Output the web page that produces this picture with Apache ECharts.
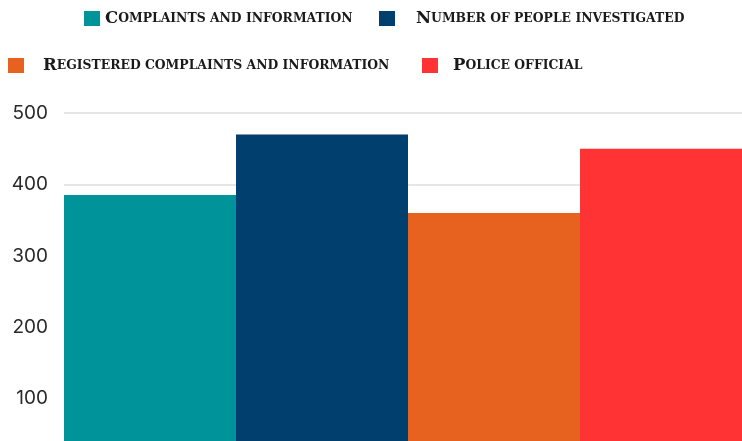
<!DOCTYPE html>
<html>
<head>
<meta charset="utf-8">
<style>
  html, body { margin: 0; padding: 0; background: #ffffff; }
  #chart { width: 742px; height: 441px; }
</style>
<script src="https://cdn.jsdelivr.net/npm/echarts@6/dist/echarts.min.js"></script>
</head>
<body>
<div id="chart"></div>
<script>
// One group, four measures drawn side by side
const categories = [''];
const seriesNames = [
  'Complaints and information',
  'Number of people investigated',
  'Registered complaints and information',
  'Police official'
];
const seriesValues = [385, 470, 360, 450];
const seriesColors = ['#00939a', '#003f6e', '#e8621f', '#ff3333'];
const yTicks = [0, 100, 200, 300, 400, 500];

// Legend placement: [left, top, extra space between swatch and text]
const legendSpots = [
  [84, 10, 0],
  [379, 10, 16],
  [8, 57, 14],
  [422, 57, 10]
];

const serif = '"DejaVu Serif", "Liberation Serif", serif';

// Small-caps style: first letter full size, rest as smaller capitals
function smallCaps(name) {
  const words = name.split(' ');
  const first = words[0];
  const head = first.charAt(0).toUpperCase();
  const tail = (first.slice(1) + ' ' + words.slice(1).join(' ')).toUpperCase();
  return '{a|' + head + '}{b|' + tail + '}';
}

const legends = seriesNames.map((name, i) => ({
  data: [name],
  left: legendSpots[i][0],
  top: legendSpots[i][1],
  itemWidth: 16,
  itemHeight: 15,
  padding: 0,
  selectedMode: false,
  icon: 'rect',
  formatter: smallCaps,
  textStyle: {
    rich: {
      a: {
        fontFamily: serif,
        fontWeight: 'bold',
        fontSize: 16.5,
        color: '#1a1a1a',
        lineHeight: 16,
        padding: [0, 0, 0, legendSpots[i][2]]
      },
      b: {
        fontFamily: serif,
        fontWeight: 'bold',
        fontSize: 12.4,
        color: '#1a1a1a',
        lineHeight: 16
      }
    }
  }
}));

const chart = echarts.init(document.getElementById('chart'));
chart.setOption({
  animation: false,
  backgroundColor: '#ffffff',
  legend: legends,
  grid: {
    left: 64, top: 113, width: 688, height: 357,
    containLabel: false,
    outerBoundsMode: 'none'
  },
  xAxis: {
    type: 'category',
    data: categories,
    axisLine: { show: false },
    axisTick: { show: false },
    axisLabel: { show: false }
  },
  yAxis: {
    type: 'value',
    min: yTicks[0],
    max: yTicks[yTicks.length - 1],
    interval: yTicks[1] - yTicks[0],
    axisLine: { show: false },
    axisTick: { show: false },
    axisLabel: {
      margin: 16,
      fontFamily: 'Inter, "Open Sans", sans-serif',
      fontSize: 19,
      color: '#2a2a2a',
      formatter: v => (v === 0 ? '' : String(v))
    },
    splitLine: { lineStyle: { color: '#e6e6e6', width: 2 } }
  },
  series: seriesNames.map((name, i) => ({
    name: name,
    type: 'bar',
    data: [seriesValues[i]],
    barGap: '0%',
    barCategoryGap: '0%',
    itemStyle: { color: seriesColors[i] }
  }))
});
</script>
</body>
</html>
